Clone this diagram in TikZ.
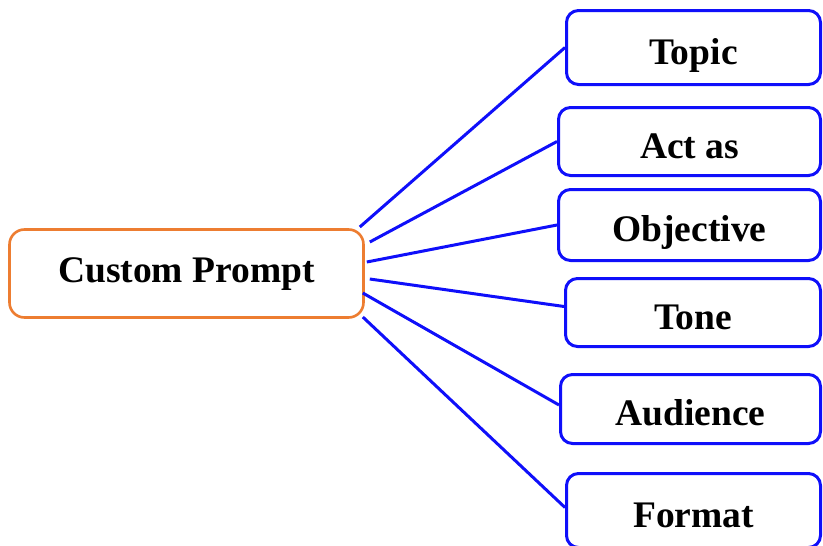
\documentclass[tikz,border=0pt]{standalone}
\usepackage{fontspec}
\setmainfont{Liberation Serif}
\usetikzlibrary{calc}
\definecolor{boxblue}{RGB}{15,15,250}
\definecolor{boxorange}{RGB}{237,125,49}
\tikzset{
  leaf/.style={draw=boxblue, line width=3pt, rounded corners=12pt, fill=white,
    inner sep=0pt, font=\fontsize{37.5}{40}\selectfont\bfseries,
    text height=33pt, text depth=0pt},
  root/.style={draw=boxorange, line width=2.6pt, rounded corners=15pt, fill=white,
    inner sep=0pt, font=\fontsize{37.5}{40}\selectfont\bfseries,
    text height=17pt, text depth=0pt, minimum width=354pt, minimum height=88pt},
  link/.style={draw=boxblue, line width=3pt}
}
\begin{document}
\begin{tikzpicture}[x=1pt,y=-1pt]
\useasboundingbox (0,0) rectangle (823,546);
\clip (0,0) rectangle (823,546);
\node[root] (cp) at (186.5,273.5) {Custom Prompt};
\node[leaf, minimum width=254pt, minimum height=74pt] (topic) at (693.5,47.5) {Topic};
\node[leaf, minimum width=262pt, minimum height=68pt] (act) at (689.5,141.5) {Act as};
\node[leaf, minimum width=262pt, minimum height=71pt] (obj) at (689.5,225) {Objective};
\node[leaf, minimum width=255pt, minimum height=68pt] (tone) at (693,312.5) {Tone};
\node[leaf, minimum width=260pt, minimum height=69pt] (aud) at (690.5,409) {Audience};
\node[leaf, minimum width=254pt, minimum height=74pt] (fmt) at (693.5,510.5) {Format};
\draw[link] ($(cp.east)+(-5,-46.5)$) -- (topic.west);
\draw[link] ($(cp.east)+(5,-31.5)$) -- (act.west);
\draw[link] ($(cp.east)+(2,-11.5)$) -- (obj.west);
\draw[link] ($(cp.east)+(5,5.5)$) -- ($(tone.west)+(0,-6)$);
\draw[link] ($(cp.east)+(-2,19.5)$) -- ($(aud.west)+(0,-4)$);
\draw[link] ($(cp.east)+(-2,43.5)$) -- ($(fmt.west)+(0,-3)$);
\end{tikzpicture}
\end{document}
